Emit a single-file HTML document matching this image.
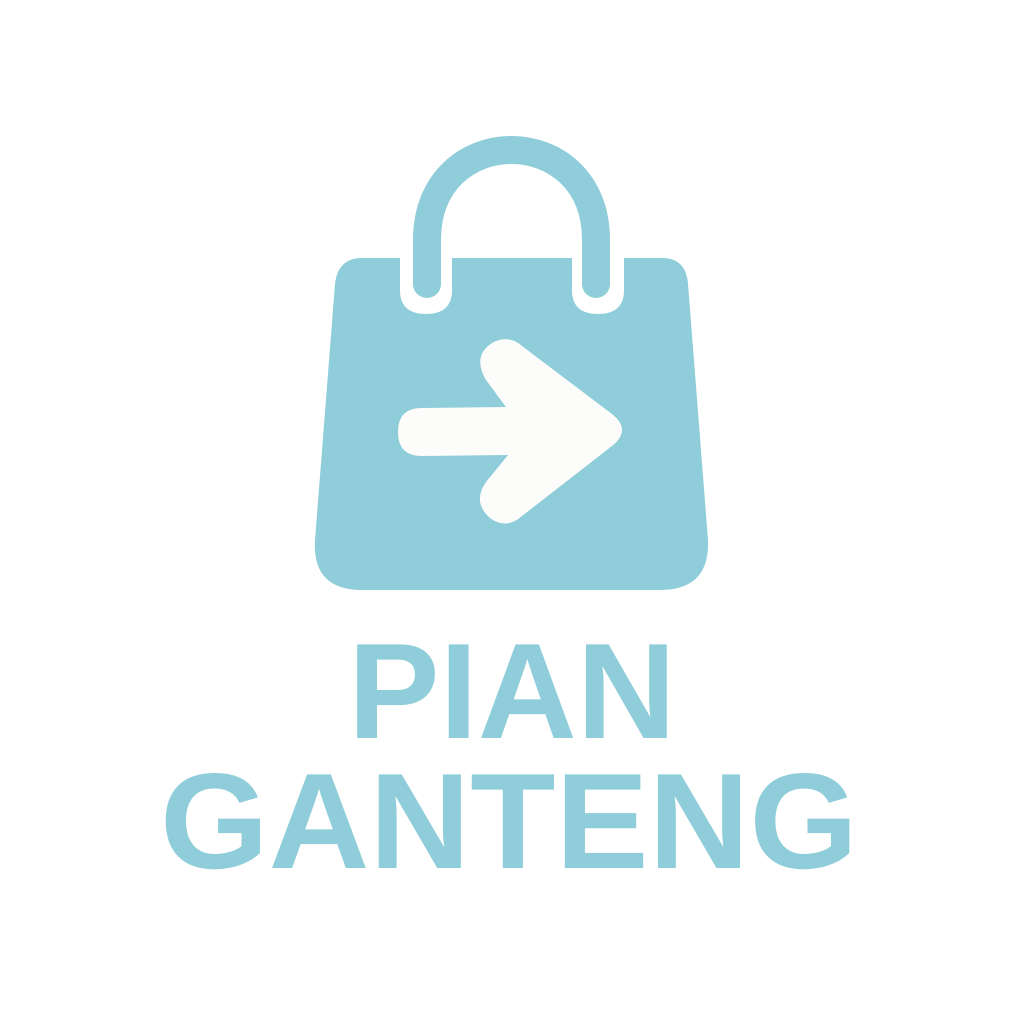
<!DOCTYPE html>
<html><head><meta charset="utf-8"><style>
html,body{margin:0;padding:0;background:#fff;}
svg{display:block}
</style></head><body>
<svg width="1024" height="1024" viewBox="0 0 1024 1024">
  <rect width="1024" height="1024" fill="#ffffff"/>
  <g>
    <path fill="#8ECDD9"
      d="M362 258 L400 258 L400 290 Q400 314 426 314 Q452 314 452 290 L452 258 L572 258 L572 290 Q572 314 598 314 Q624 314 624 290 L624 258 L662 258 Q686 258 688 284 L708 540 Q710 590 660 590 L362 590 Q312 590 315 540 L335 284 Q338 258 362 258 Z"/>
    <path fill="none" stroke="#8ECDD9" stroke-width="28" stroke-linecap="round"
      d="M427 284 L427 240 C427 120 596 120 596 240 L596 284"/>
    <path fill="#FCFCFA"
      d="M422 408 L506 407 L486 380 Q472 356 492 343 Q508 334 522 346 L612 414 Q632 430 612 446 L522 516 Q506 530 490 518 Q472 502 486 482 L508 455 L422 456 Q398 456 398 432 Q398 408 422 408 Z"/>
  </g>
  <text x="512" y="738" text-anchor="middle"
    font-family="'Liberation Sans', 'DejaVu Sans', sans-serif" font-weight="bold" font-size="136"
    fill="#8ECDD9" textLength="328" lengthAdjust="spacingAndGlyphs">PIAN</text>
  <text x="509" y="868" text-anchor="middle"
    font-family="'Liberation Sans', 'DejaVu Sans', sans-serif" font-weight="bold" font-size="136"
    fill="#8ECDD9" textLength="698" lengthAdjust="spacingAndGlyphs">GANTENG</text>
</svg>
</body></html>
